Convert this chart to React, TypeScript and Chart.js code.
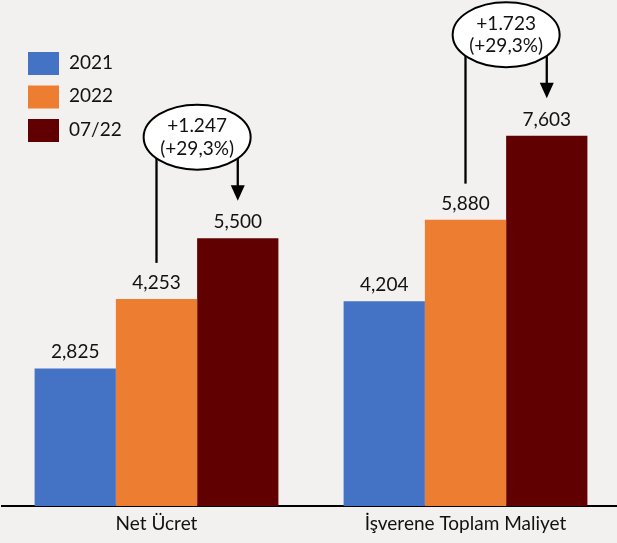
import React, { useEffect, useRef } from 'react';
import { Chart, registerables } from 'chart.js';

Chart.register(...registerables);

const categories = ['Net Ücret', 'İşverene Toplam Maliyet'];
const seriesLabels = ['2021', '2022', '07/22'];
const values2021 = [2825, 4204];
const values2022 = [4253, 5880];
const values0722 = [5500, 7603];
const seriesColors = ['#4472C4', '#ED7D31', '#600000'];
const changeLabels = ['+1.247', '+1.723'];
const changePctLabels = ['(+29,3%)', '(+29,3%)'];

const FONT = 'Lato, "Open Sans", sans-serif';
const TEXT = '#111111';
const BG = '#F3F1EF';
const FS = 19;

const overlayPlugin = {
  id: 'overlay',
  afterDatasetsDraw(chart: any) {
    const ctx = chart.ctx as CanvasRenderingContext2D;
    ctx.save();
    ctx.font = `${FS}px ${FONT}`;
    ctx.textAlign = 'center';
    ctx.textBaseline = 'alphabetic';
    ctx.fillStyle = TEXT;
    chart.data.datasets.forEach((ds: any, di: number) => {
      const meta = chart.getDatasetMeta(di);
      meta.data.forEach((bar: any, i: number) => {
        const v = ds.data[i] as number;
        ctx.fillText(v.toLocaleString('en-US'), bar.x, bar.y - 10);
      });
    });

    const mOr = chart.getDatasetMeta(1);
    const mRd = chart.getDatasetMeta(2);
    categories.forEach((_, i) => {
      const o = mOr.data[i];
      const r = mRd.data[i];
      const cx = (o.x + r.x) / 2;
      const cy = r.y - 101;
      ctx.strokeStyle = '#000';
      ctx.lineWidth = 2.3;
      ctx.beginPath();
      ctx.moveTo(o.x, cy);
      ctx.lineTo(o.x, o.y - 36);
      ctx.stroke();
      ctx.beginPath();
      ctx.moveTo(r.x, cy);
      ctx.lineTo(r.x, r.y - 51);
      ctx.stroke();
      ctx.fillStyle = '#000';
      ctx.beginPath();
      ctx.moveTo(r.x - 7, r.y - 53);
      ctx.lineTo(r.x + 7, r.y - 53);
      ctx.lineTo(r.x, r.y - 37.5);
      ctx.closePath();
      ctx.fill();

      ctx.beginPath();
      ctx.ellipse(cx, cy, 53.5, 32.5, 0, 0, Math.PI * 2);
      ctx.fillStyle = '#ffffff';
      ctx.fill();
      ctx.lineWidth = 2;
      ctx.stroke();
      ctx.fillStyle = TEXT;
      ctx.textBaseline = 'alphabetic';
      ctx.fillText(changeLabels[i], cx, cy - 5);
      ctx.fillText(changePctLabels[i], cx, cy + 17.5);
    });

    // legend
    ctx.textAlign = 'left';
    seriesLabels.forEach((lab, i) => {
      const y = 52 + i * 33.5;
      ctx.fillStyle = seriesColors[i];
      ctx.fillRect(28, y, 31, 23);
      ctx.fillStyle = TEXT;
      ctx.fillText(lab, 69, y + 16.5);
    });
    ctx.restore();
  },
};

export default function App() {
  const ref = useRef<HTMLCanvasElement | null>(null);
  useEffect(() => {
    if (!ref.current) return;
    const chart = new Chart(ref.current, {
      type: 'bar',
      data: {
        labels: categories,
        datasets: [
          { label: seriesLabels[0], data: values2021, backgroundColor: seriesColors[0] },
          { label: seriesLabels[1], data: values2022, backgroundColor: seriesColors[1] },
          { label: seriesLabels[2], data: values0722, backgroundColor: seriesColors[2] },
        ],
      },
      options: {
        responsive: false,
        animation: false,
        devicePixelRatio: 1,
        layout: { padding: { left: 2, right: 0, top: 19, bottom: 2.2 } },
        datasets: { bar: { categoryPercentage: 0.789, barPercentage: 1 } },
        plugins: {
          legend: { display: false },
          tooltip: { enabled: false },
        },
        scales: {
          y: { display: false, min: 0, max: 10000 },
          x: {
            grid: { display: false, drawTicks: false },
            border: { display: true, color: '#000', width: 2 },
            ticks: {
              color: TEXT,
              padding: 6,
              font: { family: FONT, size: FS },
            },
          },
        },
      },
      plugins: [overlayPlugin],
    });
    return () => chart.destroy();
  }, []);

  return (
    <div
      style={{
        position: 'fixed',
        left: 0,
        top: 0,
        width: 617,
        height: 543,
        overflow: 'hidden',
        background: BG,
      }}
    >
      <canvas ref={ref} width={620} height={543} style={{ display: 'block' }} />
    </div>
  );
}
